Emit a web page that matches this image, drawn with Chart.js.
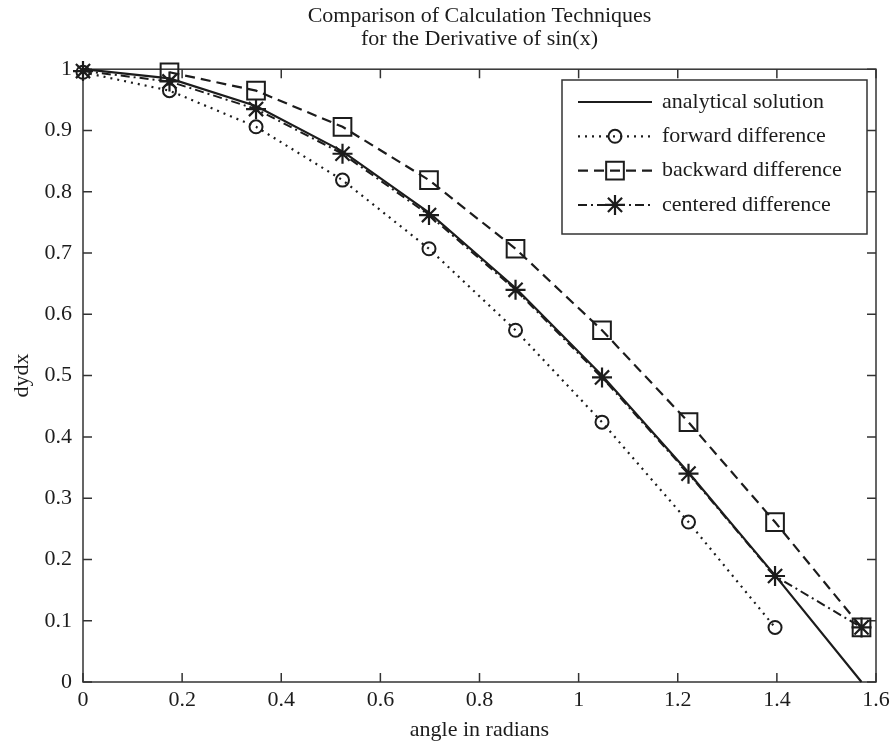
<!DOCTYPE html>
<html>
<head>
<meta charset="utf-8">
<script src="https://cdn.jsdelivr.net/npm/chart.js@4"></script>
<style>
  body { margin: 0; background: #fff; }
  #wrap { width: 895px; height: 744px; position: relative; }
</style>
</head>
<body>
<div id="wrap"><canvas id="deriv_chart"></canvas></div>
<script>
// angle values (0 : pi/18 : pi/2)
var angles = [0, 0.1745, 0.3491, 0.5236, 0.6981, 0.8727, 1.0472, 1.2217, 1.3963, 1.5708];
var analytical = [1.000, 0.985, 0.940, 0.866, 0.766, 0.643, 0.500, 0.342, 0.174, 0.000];
var forwardX = [0, 0.1745, 0.3491, 0.5236, 0.6981, 0.8727, 1.0472, 1.2217, 1.3963];
var forwardY = [0.995, 0.965, 0.906, 0.819, 0.707, 0.574, 0.424, 0.261, 0.089];
var backwardX = [0.1745, 0.3491, 0.5236, 0.6981, 0.8727, 1.0472, 1.2217, 1.3963, 1.5708];
var backwardY = [0.995, 0.965, 0.906, 0.819, 0.707, 0.574, 0.424, 0.261, 0.089];
var centeredY = [0.997, 0.980, 0.935, 0.862, 0.762, 0.640, 0.497, 0.340, 0.173, 0.089];
var seriesNames = ["analytical solution", "forward difference", "backward difference", "centered difference"];
var xTicks = [0, 0.2, 0.4, 0.6, 0.8, 1, 1.2, 1.4, 1.6];
var yTicks = [0, 0.1, 0.2, 0.3, 0.4, 0.5, 0.6, 0.7, 0.8, 0.9, 1];

var ink = "#1c1c1c";
var serif = "'Liberation Serif', 'DejaVu Serif', serif";
var fs = 22;

function pts(xs, ys) {
  return xs.map(function (x, i) { return { x: x, y: ys[i] }; });
}

// draw an unfilled MATLAB-like marker
function marker(ctx, style, x, y, r) {
  ctx.beginPath();
  if (style === "circle") {
    ctx.arc(x, y, r, 0, Math.PI * 2);
  } else if (style === "rect") {
    var s = Math.SQRT1_2 * r;
    ctx.rect(x - s, y - s, 2 * s, 2 * s);
  } else if (style === "star") {
    for (var a = 0; a < 4; a++) {
      var ang = a * Math.PI / 4;
      ctx.moveTo(x - Math.cos(ang) * r, y - Math.sin(ang) * r);
      ctx.lineTo(x + Math.cos(ang) * r, y + Math.sin(ang) * r);
    }
  }
  ctx.stroke();
}

var framePlugin = {
  id: "frame",
  beforeDatasetsDraw: function (chart) {
    var ctx = chart.ctx, a = chart.chartArea;
    var xs = chart.scales.x, ys = chart.scales.y;
    ctx.save();
    ctx.strokeStyle = "#333";
    ctx.lineWidth = 1.5;
    ctx.strokeRect(a.left, a.top, a.right - a.left, a.bottom - a.top);
    ctx.beginPath();
    xTicks.forEach(function (t) {
      var px = xs.getPixelForValue(t);
      ctx.moveTo(px, a.bottom); ctx.lineTo(px, a.bottom - 9);
      ctx.moveTo(px, a.top); ctx.lineTo(px, a.top + 9);
    });
    yTicks.forEach(function (t) {
      var py = ys.getPixelForValue(t);
      ctx.moveTo(a.left, py); ctx.lineTo(a.left + 9, py);
      ctx.moveTo(a.right, py); ctx.lineTo(a.right - 9, py);
    });
    ctx.stroke();
    ctx.restore();
  }
};

var legendPlugin = {
  id: "boxLegend",
  afterDraw: function (chart) {
    var ctx = chart.ctx;
    var bx = 562, by = 80, bw = 305, bh = 154;
    ctx.save();
    ctx.fillStyle = "#fff";
    ctx.fillRect(bx, by, bw, bh);
    ctx.strokeStyle = "#333";
    ctx.lineWidth = 1.5;
    ctx.strokeRect(bx, by, bw, bh);
    chart.data.datasets.forEach(function (ds, i) {
      var yy = by + 22 + i * 34.3;
      ctx.strokeStyle = ink;
      ctx.lineWidth = ds.borderWidth;
      ctx.setLineDash(ds.borderDash || []);
      ctx.beginPath();
      ctx.moveTo(bx + 16, yy);
      ctx.lineTo(bx + 90, yy);
      ctx.stroke();
      ctx.setLineDash([]);
      if (ds.pointRadius > 0) {
        ctx.lineWidth = ds.pointBorderWidth;
        marker(ctx, ds.pointStyle, bx + 53, yy, ds.pointRadius);
      }
      ctx.fillStyle = ink;
      ctx.font = fs + "px " + serif;
      ctx.textBaseline = "middle";
      ctx.textAlign = "left";
      ctx.fillText(seriesNames[i], bx + 100, yy);
    });
    ctx.restore();
  }
};

var c1 = document.getElementById("deriv_chart").getContext("2d");

var deriv_chart = new Chart(c1, {
  type: "scatter",
  data: {
    datasets: [
      {
        label: seriesNames[0],
        data: pts(angles, analytical),
        showLine: true,
        borderColor: ink,
        borderWidth: 2.2,
        pointRadius: 0,
        clip: false
      },
      {
        label: seriesNames[1],
        data: pts(forwardX, forwardY),
        showLine: true,
        borderColor: ink,
        borderWidth: 2.2,
        borderDash: [2, 5],
        pointStyle: "circle",
        pointRadius: 6.5,
        pointBorderWidth: 2,
        pointBorderColor: ink,
        pointBackgroundColor: "rgba(0,0,0,0)",
        clip: false
      },
      {
        label: seriesNames[2],
        data: pts(backwardX, backwardY),
        showLine: true,
        borderColor: ink,
        borderWidth: 2.2,
        borderDash: [10, 6],
        pointStyle: "rect",
        pointRadius: 12.5,
        pointBorderWidth: 2,
        pointBorderColor: ink,
        pointBackgroundColor: "rgba(0,0,0,0)",
        clip: false
      },
      {
        label: seriesNames[3],
        data: pts(angles, centeredY),
        showLine: true,
        borderColor: ink,
        borderWidth: 2,
        borderDash: [9, 4, 2, 4],
        pointStyle: "star",
        pointRadius: 10,
        pointBorderWidth: 2.2,
        pointBorderColor: ink,
        pointBackgroundColor: "rgba(0,0,0,0)",
        clip: false
      }
    ]
  },
  options: {
    responsive: true,
    maintainAspectRatio: false,
    animation: false,
    layout: { padding: { left: 0, right: 19, top: 0, bottom: 0 } },
    scales: {
      x: {
        type: "linear",
        min: 0,
        max: 1.6,
        afterFit: function (s) { s.height = 62; },
        afterBuildTicks: function (s) { s.ticks = xTicks.map(function (v) { return { value: v }; }); },
        grid: { display: false, drawTicks: false },
        border: { display: false },
        ticks: {
          padding: 5,
          color: ink,
          font: { family: serif, size: fs },
          maxRotation: 0,
          callback: function (v) { return String(v); }
        },
        title: {
          display: true,
          text: "angle in radians",
          color: ink,
          font: { family: serif, size: fs },
          padding: { top: 0, bottom: 1 }
        }
      },
      y: {
        type: "linear",
        min: 0,
        max: 1,
        afterFit: function (s) { s.width = 83; },
        afterBuildTicks: function (s) { s.ticks = yTicks.map(function (v) { return { value: v }; }); },
        grid: { display: false, drawTicks: false },
        border: { display: false },
        ticks: {
          padding: 11,
          color: ink,
          font: { family: serif, size: fs },
          callback: function (v) { return String(v); }
        },
        title: {
          display: true,
          text: "dydx",
          color: ink,
          font: { family: serif, size: fs },
          padding: { top: 9, bottom: 0 }
        }
      }
    },
    plugins: {
      legend: { display: false },
      tooltip: { enabled: false },
      title: {
        display: true,
        fullSize: false,
        text: ["Comparison of Calculation Techniques", "for the Derivative of sin(x)"],
        color: ink,
        font: { family: serif, size: fs, weight: "normal", lineHeight: 1.05 },
        padding: { top: 5, bottom: 18 }
      }
    }
  },
  plugins: [framePlugin, legendPlugin]
});
</script>
</body>
</html>
